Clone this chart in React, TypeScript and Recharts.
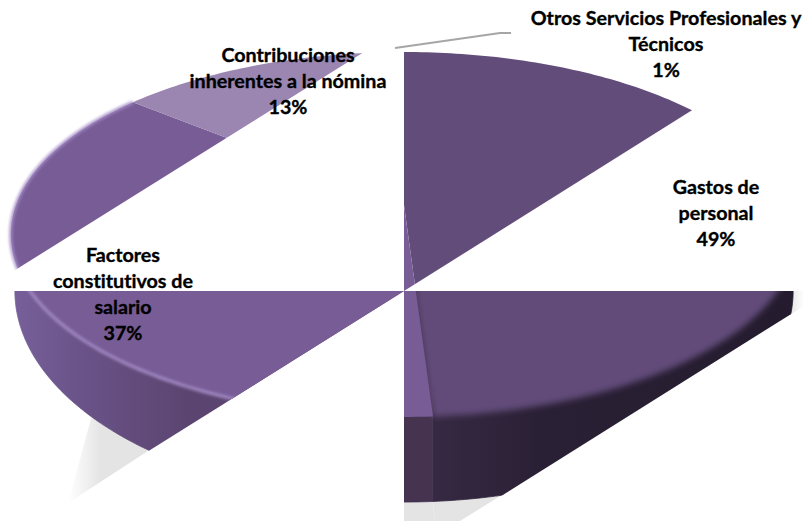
/**
 * Tilted 3D-style pie with the broken quadrant rendering of the original:
 * each quadrant is a clipped view of the same perspective-projected slices.
 */

import { PieChart, Pie } from "recharts";

const categories = [
  "Gastos de personal",
  "Factores constitutivos de salario",
  "Contribuciones inherentes a la nómina",
  "Otros Servicios Profesionales y Técnicos",
];
const shares = [49, 37, 13, 1];

const labelLines = [
  ["Gastos de", "personal", "49%"],
  ["Factores", "constitutivos de", "salario", "37%"],
  ["Contribuciones", "inherentes a la nómina", "13%"],
  ["Otros Servicios Profesionales y", "Técnicos", "1%"],
];
const labelPos = [
  { x: 716, y: 194 },
  { x: 123, y: 262 },
  { x: 288, y: 62 },
  { x: 666, y: 25 },
];

const data = categories.map((name, i) => ({ name, value: shares[i] }));

const FACE_COLORS = ["#624c79", "#775c96", "#9a86b0", "#b3a4c6"];
const SIDE_BL = ["#2a2035", "url(#sideLeft)", "#5c4671", "#5c4671"];
const SIDE_BR = ["url(#sideRight)", "#453350", "#5c4671", "#5c4671"];
const SHADOW = ["url(#shadowFade)", "url(#shadowFade)", "none", "none"];

// how much the far edge of the pie shrinks under the perspective
const PERSPECTIVE = 0.1616;
const FACE_TILT = 0.458;
const BASE_TILT = 0.535;

function project(deg: number, cx: number, cy: number, r: number, tilt: number) {
  const t = ((90 - deg) * Math.PI) / 180;
  const d = 1 + PERSPECTIVE * Math.cos(t);
  return [cx + (r * Math.sin(t)) / d, cy - (r * tilt * Math.cos(t)) / d];
}

function arcPoints(p: any, tilt: number) {
  const steps = Math.max(2, Math.ceil(Math.abs(p.endAngle - p.startAngle)));
  const pts: number[][] = [];
  for (let i = 0; i <= steps; i++) {
    const deg = p.startAngle + ((p.endAngle - p.startAngle) * i) / steps;
    pts.push(project(deg, p.cx, p.cy, p.outerRadius, tilt));
  }
  return pts;
}

const toPath = (pts: number[][]) => pts.map(([x, y]) => `${x.toFixed(2)} ${y.toFixed(2)}`).join(" L");

interface LayerOpts {
  clip: string;
  fills: string[];
  tilt: number;
  blurFirst?: boolean;
  rim?: boolean;
  wall?: boolean;
}

// Recharts hands over the angles, the shape only projects them
function sliceShape({ clip, fills, tilt, blurFirst, rim, wall }: LayerOpts) {
  return (props: any) => {
    const i = categories.indexOf(props.name);
    const pts = arcPoints(props, tilt);
    const apex = [props.cx, props.cy];
    // side walls meet in a vertical seam, the top face in a line from the apex
    const outline = wall
      ? [apex, [pts[0][0], props.cy], ...pts, [pts[pts.length - 1][0], props.cy]]
      : [apex, ...pts];
    return (
      <g clipPath={`url(#${clip})`}>
        <path
          d={`M${toPath(outline)} Z`}
          fill={fills[i]}
          stroke={wall ? fills[i] : "none"}
          strokeWidth={wall ? 0.8 : 0}
          filter={blurFirst && i === 0 ? "url(#soft)" : undefined}
        />
        {rim && i === 1 && (
          <path d={`M${toPath(pts)}`} fill="none" stroke="#a48bc6" strokeWidth={3} filter="url(#softer)" />
        )}
      </g>
    );
  };
}

function renderLabel(props: any) {
  const i = props.index;
  const pos = labelPos[i];
  return (
    <g key={i}>
      {i === 3 && <polyline points="395,48 500,33 511,33" fill="none" stroke="#a6a6a6" strokeWidth={2} />}
      {labelLines[i].map((line, n) => (
        <text
          key={line}
          x={pos.x}
          y={pos.y + n * 26}
          textAnchor="middle"
          fontFamily="Lato, sans-serif"
          fontWeight={700}
          fontSize={19.7}
          fill="#000"
          stroke="#000"
          strokeWidth={0.35}
          style={{ fontVariantLigatures: "none" }}
        >
          {line}
        </text>
      ))}
    </g>
  );
}

const pieBase = {
  data,
  dataKey: "value",
  nameKey: "name",
  startAngle: 90,
  endAngle: -270,
  innerRadius: 0,
  stroke: "none",
  isAnimationActive: false,
  labelLine: false,
  legendType: "none" as const,
};

const FACE = { cx: 404, cy: 205, outerRadius: 388 };
const BASE = { cx: 404, cy: 257, outerRadius: 384 };
const SHADOW_PIE = { cx: 404, cy: 257, outerRadius: 900 };

export default function App() {
  return (
    <div style={{ position: "absolute", left: 0, top: 0, width: 804, height: 521, overflow: "hidden", background: "#fff" }}>
      <PieChart width={804} height={521} margin={{ top: 0, right: 0, bottom: 0, left: 0 }}>
        <defs>
          <clipPath id="clipTR">
            <polygon points="404,0 804,0 804,40 404,291" />
          </clipPath>
          <clipPath id="clipTL">
            <polygon points="0,0 404,0 404,27 0,279.5" />
          </clipPath>
          <clipPath id="clipBL">
            <polygon points="0,291 404,291 0,544" />
          </clipPath>
          <clipPath id="clipBR">
            <polygon points="404,291 804,291 804,306 404,557" />
          </clipPath>
          <clipPath id="clipShadow">
            <polygon points="92,415 148,451 68,503" />
            <polygon points="404,495 510,490 460,521 404,521" />
            <polygon points="788,291 804,291 804,306 788,316" />
          </clipPath>
          <linearGradient id="sideLeft" gradientUnits="userSpaceOnUse" x1="15" x2="230" y1="0" y2="0">
            <stop offset="0" stopColor="#77609a" />
            <stop offset="0.3" stopColor="#6a5388" />
            <stop offset="0.8" stopColor="#5b4570" />
          </linearGradient>
          <linearGradient id="sideRight" gradientUnits="userSpaceOnUse" x1="433" x2="793" y1="0" y2="0">
            <stop offset="0" stopColor="#362943" />
            <stop offset="0.3" stopColor="#2a2035" />
            <stop offset="1" stopColor="#241c2e" />
          </linearGradient>
          <linearGradient id="shadowFade" gradientUnits="userSpaceOnUse" x1="68" x2="804" y1="0" y2="0">
            <stop offset="0" stopColor="#ffffff" />
            <stop offset="0.045" stopColor="#e4e4e4" />
            <stop offset="0.98" stopColor="#e4e4e4" />
            <stop offset="1" stopColor="#ffffff" />
          </linearGradient>
          <filter id="soft" x="-5%" y="-5%" width="110%" height="110%">
            <feGaussianBlur stdDeviation="3" />
          </filter>
          <filter id="softer" x="-5%" y="-5%" width="110%" height="110%">
            <feGaussianBlur stdDeviation="1.6" />
          </filter>
        </defs>

        <Pie {...pieBase} {...SHADOW_PIE} shape={sliceShape({ clip: "clipShadow", fills: SHADOW, tilt: BASE_TILT })} />
        <Pie {...pieBase} {...BASE} shape={sliceShape({ clip: "clipBL", fills: SIDE_BL, tilt: BASE_TILT, wall: true })} />
        <Pie {...pieBase} {...BASE} shape={sliceShape({ clip: "clipBR", fills: SIDE_BR, tilt: BASE_TILT, wall: true })} />
        <Pie {...pieBase} {...FACE} shape={sliceShape({ clip: "clipBL", fills: FACE_COLORS, tilt: FACE_TILT, rim: true })} />
        <Pie {...pieBase} {...FACE} shape={sliceShape({ clip: "clipBR", fills: FACE_COLORS, tilt: FACE_TILT, blurFirst: true })} />
        <Pie {...pieBase} {...FACE} shape={sliceShape({ clip: "clipTL", fills: FACE_COLORS, tilt: FACE_TILT, rim: true })} />
        <Pie {...pieBase} {...FACE} label={renderLabel} shape={sliceShape({ clip: "clipTR", fills: FACE_COLORS, tilt: FACE_TILT })} />
      </PieChart>
    </div>
  );
}
